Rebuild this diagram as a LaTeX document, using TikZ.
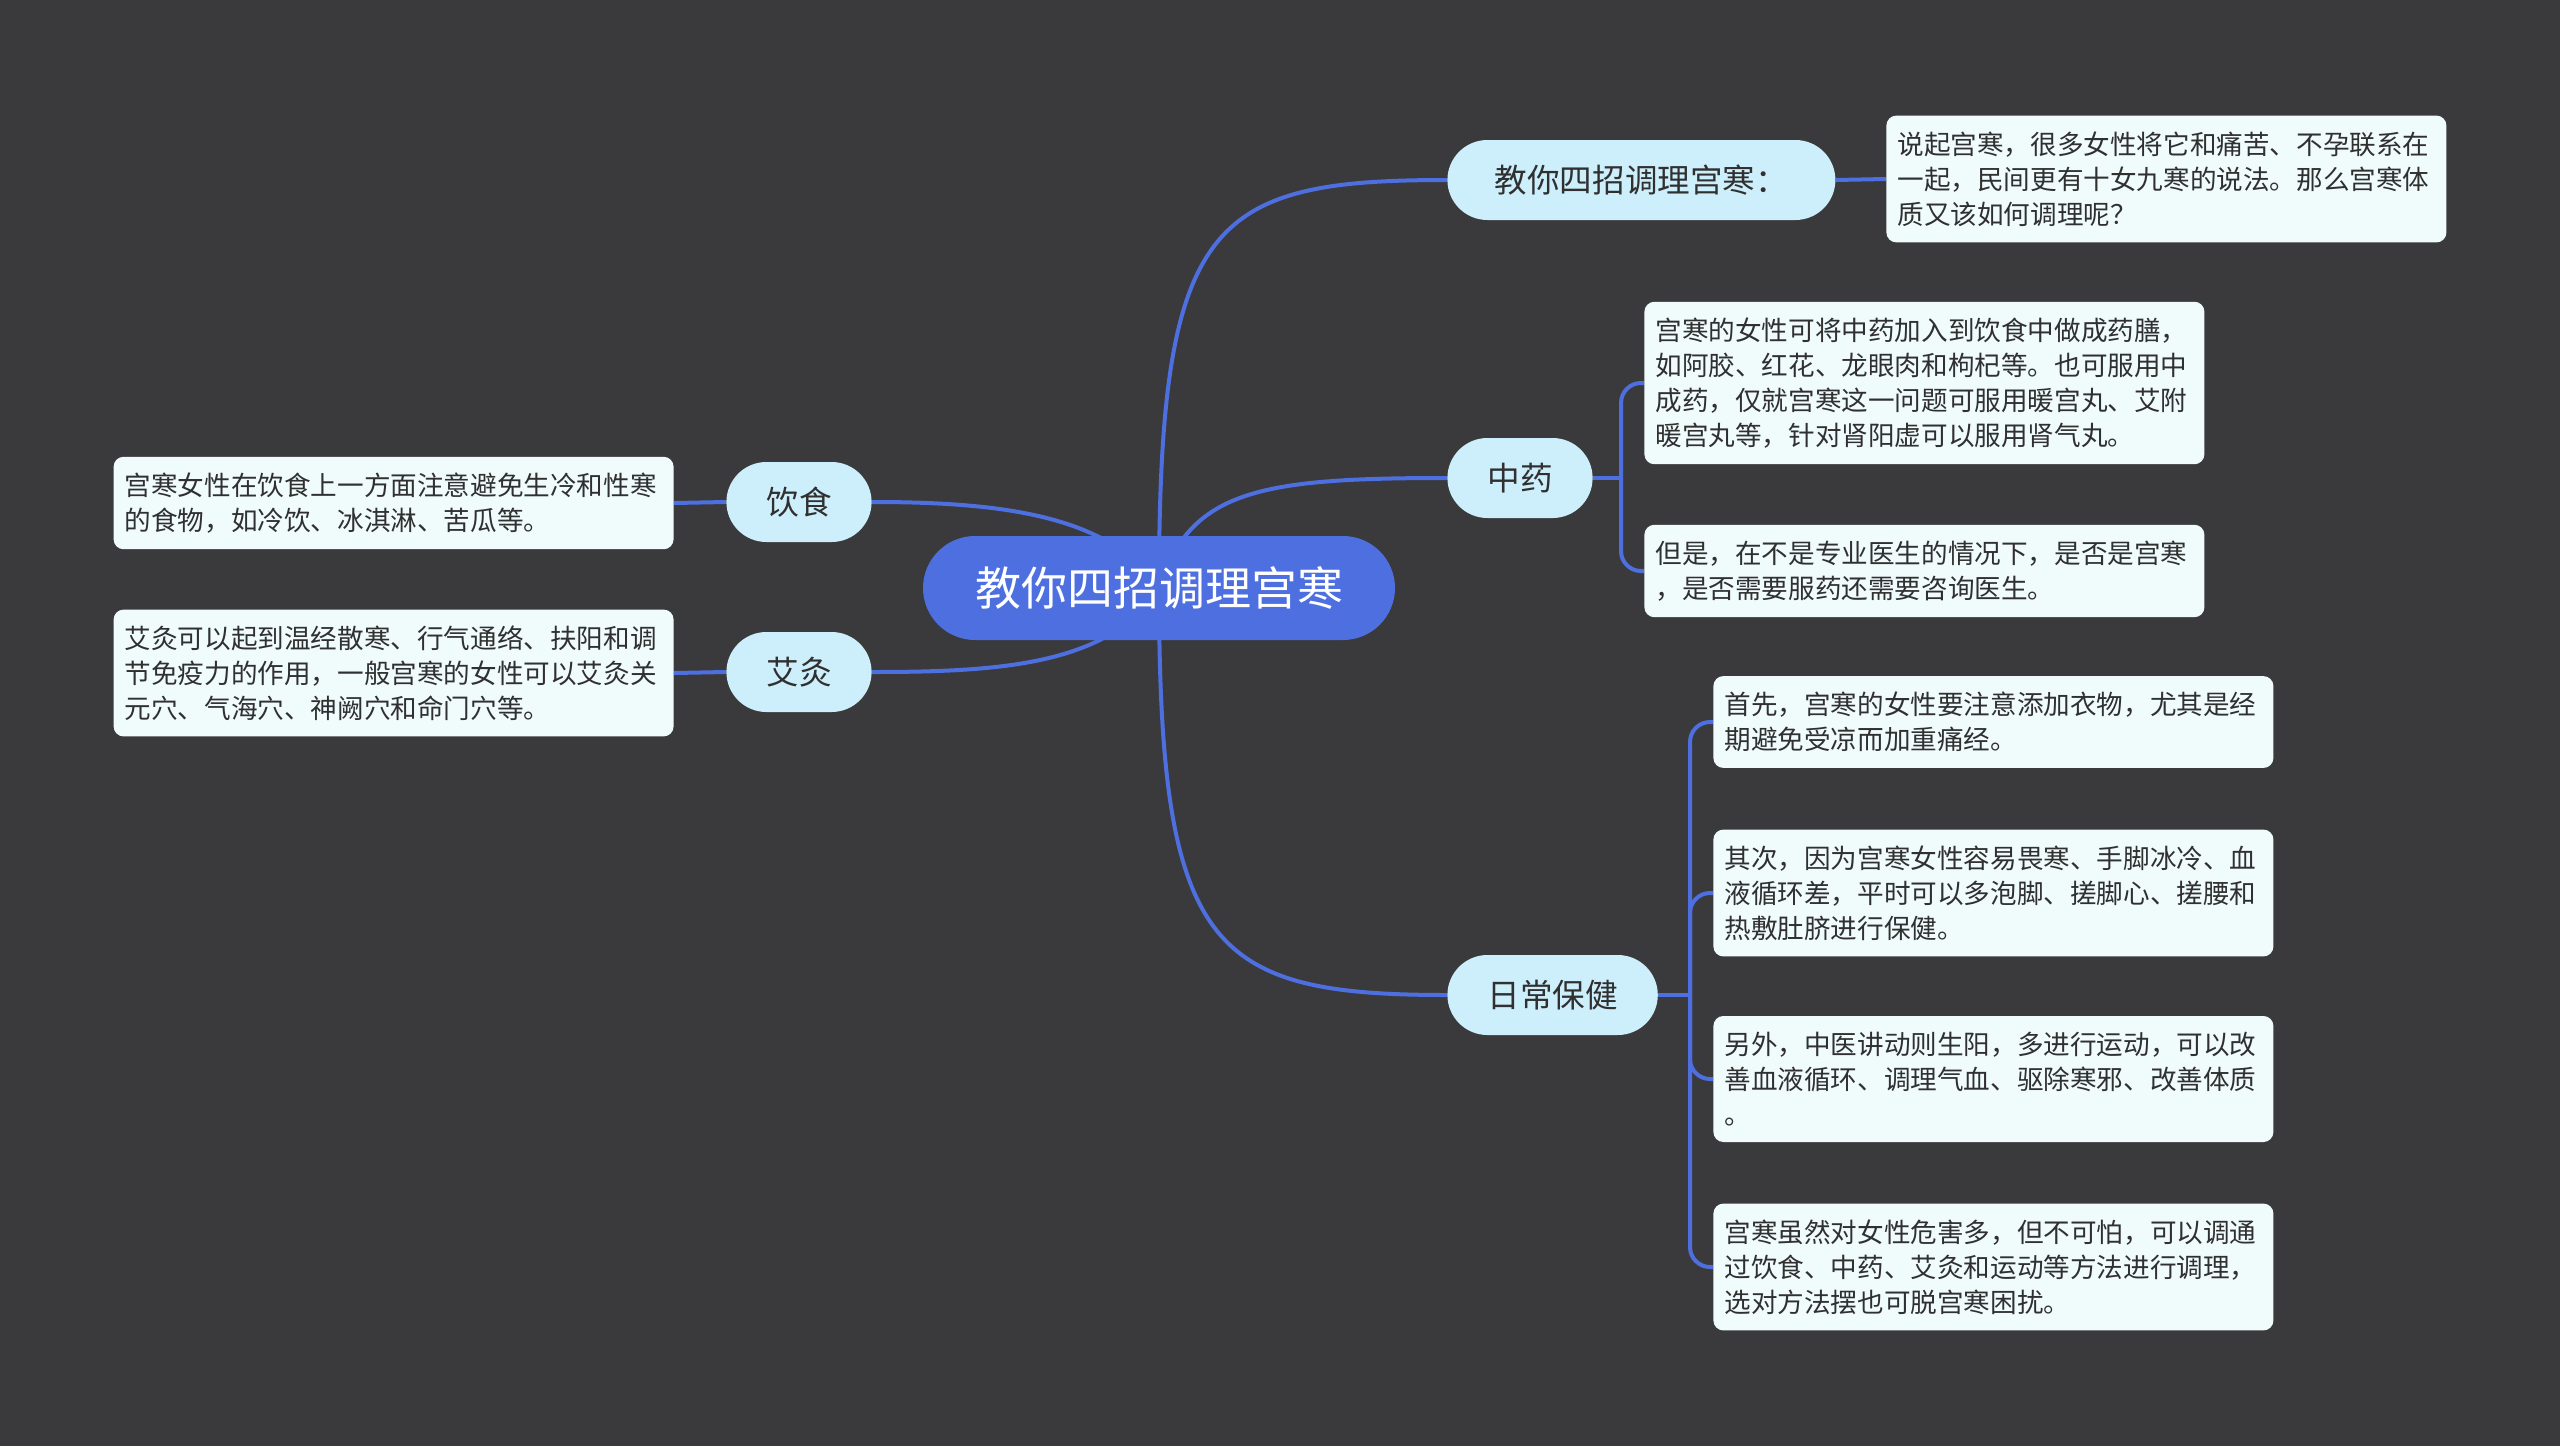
\documentclass[tikz,border=0pt]{standalone}
\usepackage{fontspec}
\setmainfont{Noto Sans CJK SC}
\definecolor{bgc}{HTML}{3A3A3C}
\definecolor{rootc}{HTML}{4E6FDF}
\definecolor{subc}{HTML}{CDEFFB}
\definecolor{leafc}{HTML}{F0FBFC}
\definecolor{txtc}{HTML}{303030}
\pgfdeclarelayer{back}
\pgfsetlayers{back,main}
\begin{document}
\begin{tikzpicture}[x=0.5pt,y=-0.5pt,
  root/.style={fill=rootc,text=white,rounded corners=26pt,minimum height=52pt,inner xsep=26pt,font=\fontsize{23}{28}\selectfont},
  sub/.style={fill=subc,text=txtc,rounded corners=20pt,minimum height=40pt,inner xsep=20pt,font=\fontsize{16.3}{20}\selectfont},
  leaf/.style={fill=leafc,text=txtc,rounded corners=5pt,text width=269pt,inner xsep=5.5pt,inner ysep=8pt,align=left,font=\fontsize{13.3}{17.5}\selectfont},
  link/.style={draw=rootc,line width=2pt}]
\node[root] (R) at (1159,588) {教你四招调理宫寒};
\node[sub,anchor=west,minimum width=194pt] (T) at (1447,180) {教你四招调理宫寒：};
\node[sub,anchor=west] (Z) at (1447,478) {中药};
\node[sub,anchor=west] (D) at (1447,995) {日常保健};
\node[sub,anchor=east] (Y) at (872,502) {饮食};
\node[sub,anchor=east] (J) at (872,672) {艾灸};
\node[leaf,anchor=west] (T1) at (1886,179) {说起宫寒，很多女性将它和痛苦、不孕联系在\\一起，民间更有十女九寒的说法。那么宫寒体\\质又该如何调理呢？};
\node[leaf,anchor=west] (Z1) at (1644,383) {宫寒的女性可将中药加入到饮食中做成药膳，\\如阿胶、红花、龙眼肉和枸杞等。也可服用中\\成药，仅就宫寒这一问题可服用暖宫丸、艾附\\暖宫丸等，针对肾阳虚可以服用肾气丸。};
\node[leaf,anchor=west] (Z2) at (1644,571) {但是，在不是专业医生的情况下，是否是宫寒\\，是否需要服药还需要咨询医生。};
\node[leaf,anchor=west] (D1) at (1713,722) {首先，宫寒的女性要注意添加衣物，尤其是经\\期避免受凉而加重痛经。};
\node[leaf,anchor=west] (D2) at (1713,893) {其次，因为宫寒女性容易畏寒、手脚冰冷、血\\液循环差，平时可以多泡脚、搓脚心、搓腰和\\热敷肚脐进行保健。};
\node[leaf,anchor=west] (D3) at (1713,1079) {另外，中医讲动则生阳，多进行运动，可以改\\善血液循环、调理气血、驱除寒邪、改善体质\\。};
\node[leaf,anchor=west] (D4) at (1713,1267) {宫寒虽然对女性危害多，但不可怕，可以调通\\过饮食、中药、艾灸和运动等方法进行调理，\\选对方法摆也可脱宫寒困扰。};
\node[leaf,anchor=east] (Y1) at (674,503) {宫寒女性在饮食上一方面注意避免生冷和性寒\\的食物，如冷饮、冰淇淋、苦瓜等。};
\node[leaf,anchor=east] (J1) at (674,673) {艾灸可以起到温经散寒、行气通络、扶阳和调\\节免疫力的作用，一般宫寒的女性可以艾灸关\\元穴、气海穴、神阙穴和命门穴等。};
\coordinate (zj) at (1621,478);
\coordinate (dj) at (1690,995);
\begin{pgfonlayer}{back}
\fill[bgc] (0,0) rectangle (2560,1446);
% main branches
\draw[link] (R.center) .. controls (1159,220) and (1210,180) .. (T.west);
\draw[link] (R.center) .. controls (1190,490) and (1260,478) .. (Z.west);
\draw[link] (R.center) .. controls (1159,950) and (1210,995) .. (D.west);
\draw[link] (R.center) .. controls (1110,515) and (1000,502) .. (Y.east);
\draw[link] (R.center) .. controls (1110,665) and (1000,672) .. (J.east);
% leaves
\draw[link] (T.east) -- (T1.west);
\draw[link] (Y.west) -- (Y1.east);
\draw[link] (J.west) -- (J1.east);
\draw[link] (Z.east) -- (zj);
\draw[link,rounded corners=10pt] (zj) |- (Z1.west);
\draw[link,rounded corners=10pt] (zj) |- (Z2.west);
\draw[link] (D.east) -- (dj);
\draw[link,rounded corners=10pt] (dj) |- (D1.west);
\draw[link,rounded corners=10pt] (dj) |- (D2.west);
\draw[link,rounded corners=10pt] (dj) |- (D3.west);
\draw[link,rounded corners=10pt] (dj) |- (D4.west);
\end{pgfonlayer}
\end{tikzpicture}
\end{document}
